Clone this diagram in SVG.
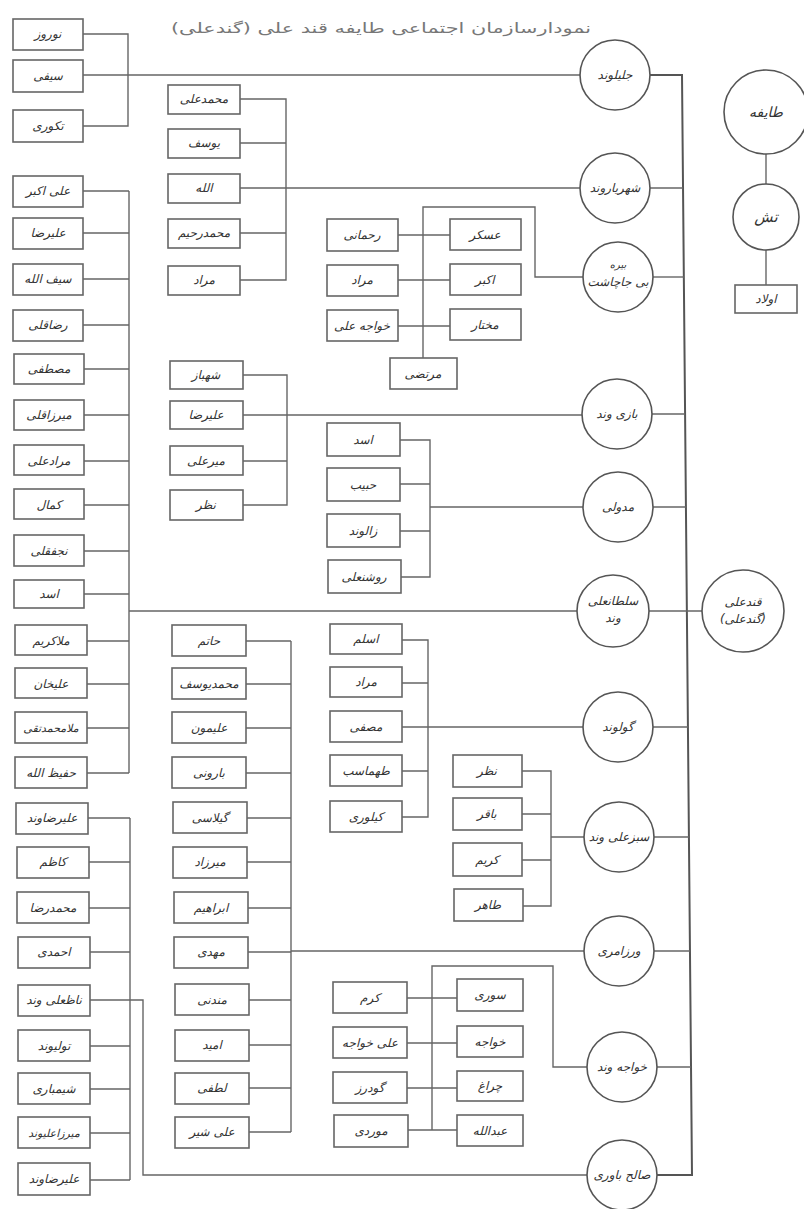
<svg xmlns="http://www.w3.org/2000/svg" width="804" height="1209" viewBox="0 0 804 1209">
<style>
.bg{fill:#fff}
.box{fill:#fff;stroke:#666;stroke-width:1.6}
.c{fill:#fff;stroke:#555;stroke-width:1.6}
.ln{fill:none;stroke:#666;stroke-width:1.4}
.tr{fill:none;stroke:#555;stroke-width:2}
.t{font-family:"DejaVu Sans",sans-serif;font-size:12px;fill:#333;text-anchor:middle;direction:rtl;font-style:italic}
.ct{font-family:"DejaVu Sans",sans-serif;font-size:12px;fill:#333;text-anchor:middle;direction:rtl;font-style:italic}
.title{font-family:"DejaVu Sans",sans-serif;font-size:14px;fill:#777;text-anchor:middle;direction:rtl}
</style>
<rect class="bg" x="0" y="0" width="804" height="1209"/>
<text class="title" x="381" y="33" textLength="420" lengthAdjust="spacingAndGlyphs">نمودارسازمان اجتماعی طایفه قند علی (گندعلی)</text>

<g id="connectors">
  <path class="tr" d="M650,75 H682 L692,1175 H657"/>
  <line class="ln" x1="650" y1="188" x2="683" y2="188"/>
  <line class="ln" x1="653" y1="277" x2="684" y2="277"/>
  <line class="ln" x1="652" y1="414" x2="685" y2="414"/>
  <line class="ln" x1="653" y1="507" x2="686" y2="507"/>
  <line class="ln" x1="649" y1="611" x2="702" y2="611"/>
  <line class="ln" x1="653" y1="727" x2="688" y2="727"/>
  <line class="ln" x1="654" y1="837" x2="689" y2="837"/>
  <line class="ln" x1="654" y1="951" x2="690" y2="951"/>
  <line class="ln" x1="657" y1="1067" x2="691" y2="1067"/>
  <line class="ln" x1="766" y1="154" x2="766" y2="184"/>
  <line class="ln" x1="766" y1="250" x2="766" y2="285"/>
  <path class="ln" d="M83,34 H128 V126 H83 M83,75 H580"/>
  <path class="ln" d="M129,191 V773 M129,611 H577"/>
  <path class="ln" d="M83,191 H129 M83,233 H129 M83,279 H129 M83,325 H129 M84,369 H129 M84,415 H129 M84,461 H129 M84,505 H129 M84,551 H129 M84,594 H129 M87,641 H129 M87,684 H129 M87,728 H129 M87,773 H129"/>
  <path class="ln" d="M130,818 V1180"/>
  <path class="ln" d="M88,818 H130 M89,862 H130 M89,908 H130 M90,952 H130 M90,1046 H130 M90,1089 H130 M90,1133 H130 M90,1180 H130"/>
  <path class="ln" d="M90,1000 H143 V1175 H587"/>
  <path class="ln" d="M240,99 H286 V280 H240 M240,143 H286 M240,233 H286 M240,188 H580"/>
  <path class="ln" d="M243,375 H287 V505 H243 M243,461 H287 M243,415 H582"/>
  <path class="ln" d="M423,358 V207 H535 V277 H583"/>
  <path class="ln" d="M398,235 H450 M398,280 H450 M398,326 H450"/>
  <path class="ln" d="M400,440 H430 V577 H401 M400,484 H430 M400,531 H430 M430,507 H583"/>
  <path class="ln" d="M291,641 V1132"/>
  <path class="ln" d="M246,641 H291 M246,684 H291 M246,728 H291 M246,773 H291 M247,818 H291 M247,862 H291 M248,908 H291 M248,952 H291 M249,1000 H291 M249,1045 H291 M249,1088 H291 M249,1132 H291 M291,951 H584"/>
  <path class="ln" d="M402,640 H428 V817 H402 M402,683 H428 M402,771 H428 M402,727 H583"/>
  <path class="ln" d="M522,771 H551 V906 H523 M522,814 H551 M522,860 H551 M551,837 H584"/>
  <path class="ln" d="M432,1130 V966 H553 V1067 H587"/>
  <path class="ln" d="M407,998 H457 M407,1043 H457 M407,1088 H457 M408,1130 H457"/>
</g>

<g id="n-jalilvand"><circle class="c" cx="615" cy="75" r="35"/><text class="ct" x="615" y="79">جلیلوند</text></g>
<g id="n-shahryarvand"><circle class="c" cx="615" cy="188" r="35"/><text class="ct" x="615" y="192">شهریاروند</text></g>
<g id="n-bibijachasht"><circle class="c" cx="618" cy="277" r="35"/><text class="ct" x="618" y="268" style="font-size:10px">بیره</text><text class="ct" x="618" y="286">بی جاچاشت</text></g>
<g id="n-bazivand"><circle class="c" cx="617" cy="414" r="35"/><text class="ct" x="617" y="418">بازی وند</text></g>
<g id="n-madavali"><circle class="c" cx="618" cy="507" r="35"/><text class="ct" x="618" y="511">مدولی</text></g>
<g id="n-soltanalivand"><circle class="c" cx="613" cy="611" r="36"/><text class="ct" x="613" y="605">سلطانعلی</text><text class="ct" x="613" y="622">وند</text></g>
<g id="n-golvand"><circle class="c" cx="618" cy="727" r="35"/><text class="ct" x="618" y="731">گولوند</text></g>
<g id="n-sabzalivand"><circle class="c" cx="619" cy="837" r="35"/><text class="ct" x="619" y="841">سبزعلی وند</text></g>
<g id="n-varzameri"><circle class="c" cx="619" cy="951" r="35"/><text class="ct" x="619" y="955">ورزامری</text></g>
<g id="n-khajavand"><circle class="c" cx="622" cy="1067" r="35"/><text class="ct" x="622" y="1071">خواجه وند</text></g>
<g id="n-salehbavari"><circle class="c" cx="622" cy="1175" r="35"/><text class="ct" x="622" y="1179">صالح باوری</text></g>
<g id="n-qandali"><circle class="c" cx="743" cy="611" r="41"/><text class="ct" x="743" y="606">قندعلی</text><text class="ct" x="743" y="623">(گندعلی)</text></g>
<g id="n-taifeh"><circle class="c" cx="766" cy="112" r="42"/><text class="ct" x="766" y="117" style="font-size:14px">طایفه</text></g>
<g id="n-tash"><circle class="c" cx="766" cy="217" r="33"/><text class="ct" x="766" y="222" style="font-size:15px">تش</text></g>
<g id="n-owlad"><rect class="box" x="735" y="285" width="62" height="28"/><text class="t" x="766" y="303">اولاد</text></g>

<g id="b-norooz"><rect class="box" x="13" y="19" width="70" height="31"/><text class="t" x="48" y="38">نوروز</text></g>
<g id="b-seyfi"><rect class="box" x="13" y="60" width="70" height="32"/><text class="t" x="48" y="80">سیفی</text></g>
<g id="b-takori"><rect class="box" x="13" y="110" width="70" height="32"/><text class="t" x="48" y="130">تکوری</text></g>
<g id="b-aliakbar"><rect class="box" x="13" y="176" width="70" height="31"/><text class="t" x="48" y="195">علی اکبر</text></g>
<g id="b-alireza1"><rect class="box" x="13" y="218" width="70" height="31"/><text class="t" x="48" y="237">علیرضا</text></g>
<g id="b-seyfollah"><rect class="box" x="13" y="264" width="70" height="31"/><text class="t" x="48" y="283">سیف الله</text></g>
<g id="b-rezagholi"><rect class="box" x="13" y="310" width="70" height="31"/><text class="t" x="48" y="329">رضاقلی</text></g>
<g id="b-mostafa"><rect class="box" x="14" y="354" width="70" height="30"/><text class="t" x="49" y="373">مصطفی</text></g>
<g id="b-mirzagholi"><rect class="box" x="14" y="400" width="70" height="30"/><text class="t" x="49" y="419">میرزاقلی</text></g>
<g id="b-moradali"><rect class="box" x="14" y="445" width="70" height="30"/><text class="t" x="49" y="465">مرادعلی</text></g>
<g id="b-kamal"><rect class="box" x="14" y="489" width="70" height="30"/><text class="t" x="49" y="509">کمال</text></g>
<g id="b-najafgholi"><rect class="box" x="14" y="535" width="70" height="31"/><text class="t" x="49" y="555">نجفقلی</text></g>
<g id="b-asad1"><rect class="box" x="14" y="580" width="70" height="28"/><text class="t" x="49" y="598">اسد</text></g>
<g id="b-mollakarim"><rect class="box" x="15" y="625" width="72" height="30"/><text class="t" x="51" y="645">ملاکریم</text></g>
<g id="b-alikhan"><rect class="box" x="15" y="668" width="72" height="30"/><text class="t" x="51" y="688">علیخان</text></g>
<g id="b-mollamt"><rect class="box" x="15" y="712" width="72" height="31"/><text class="t" x="51" y="732" style="font-size:11px">ملامحمدتقی</text></g>
<g id="b-hafizollah"><rect class="box" x="15" y="757" width="72" height="31"/><text class="t" x="51" y="777">حفیظ الله</text></g>
<g id="b-alirezavand1"><rect class="box" x="16" y="803" width="72" height="31"/><text class="t" x="52" y="822">علیرضاوند</text></g>
<g id="b-kazem"><rect class="box" x="17" y="847" width="72" height="31"/><text class="t" x="53" y="866">کاظم</text></g>
<g id="b-mohammadreza"><rect class="box" x="17" y="892" width="72" height="31"/><text class="t" x="53" y="912">محمدرضا</text></g>
<g id="b-ahmadi"><rect class="box" x="18" y="937" width="72" height="31"/><text class="t" x="54" y="956">احمدی</text></g>
<g id="b-nazalivand"><rect class="box" x="18" y="985" width="72" height="31"/><text class="t" x="54" y="1004">ناظعلی وند</text></g>
<g id="b-tolivand"><rect class="box" x="18" y="1030" width="72" height="31"/><text class="t" x="54" y="1050">تولیوند</text></g>
<g id="b-shimbari"><rect class="box" x="18" y="1073" width="72" height="31"/><text class="t" x="54" y="1093">شیمباری</text></g>
<g id="b-mirzaalivand"><rect class="box" x="18" y="1117" width="72" height="31"/><text class="t" x="54" y="1137" style="font-size:11px">میرزاعلیوند</text></g>
<g id="b-alirezavand2"><rect class="box" x="18" y="1163" width="72" height="32"/><text class="t" x="54" y="1183">علیرضاوند</text></g>

<g id="b-mohammadali"><rect class="box" x="168" y="85" width="72" height="29"/><text class="t" x="204" y="103">محمدعلی</text></g>
<g id="b-yousef"><rect class="box" x="168" y="129" width="72" height="29"/><text class="t" x="204" y="147">یوسف</text></g>
<g id="b-allah"><rect class="box" x="168" y="174" width="72" height="29"/><text class="t" x="204" y="192">الله</text></g>
<g id="b-mohammadrahim"><rect class="box" x="168" y="219" width="72" height="29"/><text class="t" x="204" y="237">محمدرحیم</text></g>
<g id="b-morad1"><rect class="box" x="168" y="266" width="72" height="29"/><text class="t" x="204" y="284">مراد</text></g>
<g id="b-shahbaz"><rect class="box" x="170" y="361" width="73" height="28"/><text class="t" x="206" y="379">شهباز</text></g>
<g id="b-alireza2"><rect class="box" x="170" y="401" width="73" height="28"/><text class="t" x="206" y="419">علیرضا</text></g>
<g id="b-mirali"><rect class="box" x="170" y="446" width="73" height="29"/><text class="t" x="206" y="465">میرعلی</text></g>
<g id="b-nazar1"><rect class="box" x="170" y="490" width="73" height="30"/><text class="t" x="206" y="509">نظر</text></g>
<g id="b-hatam"><rect class="box" x="172" y="625" width="74" height="31"/><text class="t" x="209" y="645">حاتم</text></g>
<g id="b-mohammadyousef"><rect class="box" x="172" y="668" width="74" height="31"/><text class="t" x="209" y="688">محمدیوسف</text></g>
<g id="b-alimoon"><rect class="box" x="172" y="712" width="74" height="31"/><text class="t" x="209" y="732">علیمون</text></g>
<g id="b-barooni"><rect class="box" x="172" y="757" width="74" height="31"/><text class="t" x="209" y="777">بارونی</text></g>
<g id="b-gilasi"><rect class="box" x="173" y="802" width="74" height="31"/><text class="t" x="210" y="822">گیلاسی</text></g>
<g id="b-mirzad"><rect class="box" x="173" y="847" width="74" height="31"/><text class="t" x="210" y="866">میرزاد</text></g>
<g id="b-ebrahim"><rect class="box" x="174" y="892" width="74" height="31"/><text class="t" x="211" y="912">ابراهیم</text></g>
<g id="b-mahdi"><rect class="box" x="174" y="937" width="74" height="31"/><text class="t" x="211" y="956">مهدی</text></g>
<g id="b-mandani"><rect class="box" x="175" y="984" width="74" height="31"/><text class="t" x="212" y="1004">مندنی</text></g>
<g id="b-omid"><rect class="box" x="175" y="1030" width="74" height="31"/><text class="t" x="212" y="1049">امید</text></g>
<g id="b-lotfi"><rect class="box" x="175" y="1073" width="74" height="31"/><text class="t" x="212" y="1092">لطفی</text></g>
<g id="b-alishir"><rect class="box" x="175" y="1117" width="74" height="31"/><text class="t" x="212" y="1136">علی شیر</text></g>

<g id="b-rahmani"><rect class="box" x="327" y="219" width="71" height="32"/><text class="t" x="362" y="239">رحمانی</text></g>
<g id="b-morad2"><rect class="box" x="327" y="265" width="71" height="31"/><text class="t" x="362" y="284">مراد</text></g>
<g id="b-khajeali"><rect class="box" x="327" y="310" width="71" height="31"/><text class="t" x="362" y="330">خواجه علی</text></g>
<g id="b-askar"><rect class="box" x="450" y="219" width="71" height="31"/><text class="t" x="485" y="239">عسکر</text></g>
<g id="b-akbar"><rect class="box" x="450" y="264" width="71" height="31"/><text class="t" x="485" y="284">اکبر</text></g>
<g id="b-mokhtar"><rect class="box" x="450" y="309" width="71" height="31"/><text class="t" x="485" y="329">مختار</text></g>
<g id="b-morteza"><rect class="box" x="390" y="358" width="67" height="31"/><text class="t" x="423" y="378">مرتضی</text></g>

<g id="b-asad2"><rect class="box" x="327" y="423" width="73" height="33"/><text class="t" x="363" y="444">اسد</text></g>
<g id="b-habib"><rect class="box" x="327" y="468" width="73" height="33"/><text class="t" x="363" y="489">حبیب</text></g>
<g id="b-zalvand"><rect class="box" x="327" y="514" width="73" height="33"/><text class="t" x="363" y="535">زالوند</text></g>
<g id="b-roshanali"><rect class="box" x="328" y="560" width="73" height="33"/><text class="t" x="364" y="581">روشنعلی</text></g>

<g id="b-aslam"><rect class="box" x="330" y="624" width="72" height="30"/><text class="t" x="366" y="643">اسلم</text></g>
<g id="b-morad3"><rect class="box" x="330" y="667" width="72" height="30"/><text class="t" x="366" y="686">مراد</text></g>
<g id="b-mosafa"><rect class="box" x="330" y="711" width="72" height="31"/><text class="t" x="366" y="731">مصفی</text></g>
<g id="b-tahmasb"><rect class="box" x="330" y="755" width="72" height="31"/><text class="t" x="366" y="775">طهماسب</text></g>
<g id="b-kilori"><rect class="box" x="330" y="801" width="72" height="31"/><text class="t" x="366" y="821">کیلوری</text></g>

<g id="b-nazar2"><rect class="box" x="453" y="755" width="69" height="32"/><text class="t" x="487" y="775">نظر</text></g>
<g id="b-bagher"><rect class="box" x="453" y="798" width="69" height="32"/><text class="t" x="487" y="818">باقر</text></g>
<g id="b-karim"><rect class="box" x="453" y="843" width="69" height="33"/><text class="t" x="487" y="864">کریم</text></g>
<g id="b-taher"><rect class="box" x="454" y="889" width="69" height="32"/><text class="t" x="488" y="909">طاهر</text></g>

<g id="b-karam"><rect class="box" x="333" y="982" width="74" height="31"/><text class="t" x="370" y="1002">کرم</text></g>
<g id="b-alikhaje"><rect class="box" x="333" y="1027" width="74" height="31"/><text class="t" x="370" y="1047">علی خواجه</text></g>
<g id="b-goodarz"><rect class="box" x="333" y="1072" width="74" height="31"/><text class="t" x="370" y="1092">گودرز</text></g>
<g id="b-mordi"><rect class="box" x="334" y="1115" width="74" height="32"/><text class="t" x="371" y="1135">موردی</text></g>
<g id="b-souri"><rect class="box" x="457" y="979" width="66" height="32"/><text class="t" x="490" y="999">سوری</text></g>
<g id="b-khaje"><rect class="box" x="457" y="1026" width="66" height="31"/><text class="t" x="490" y="1046">خواجه</text></g>
<g id="b-cheragh"><rect class="box" x="457" y="1071" width="66" height="30"/><text class="t" x="490" y="1090">چراغ</text></g>
<g id="b-abdollah"><rect class="box" x="457" y="1115" width="66" height="31"/><text class="t" x="490" y="1135">عبدالله</text></g>
</svg>
